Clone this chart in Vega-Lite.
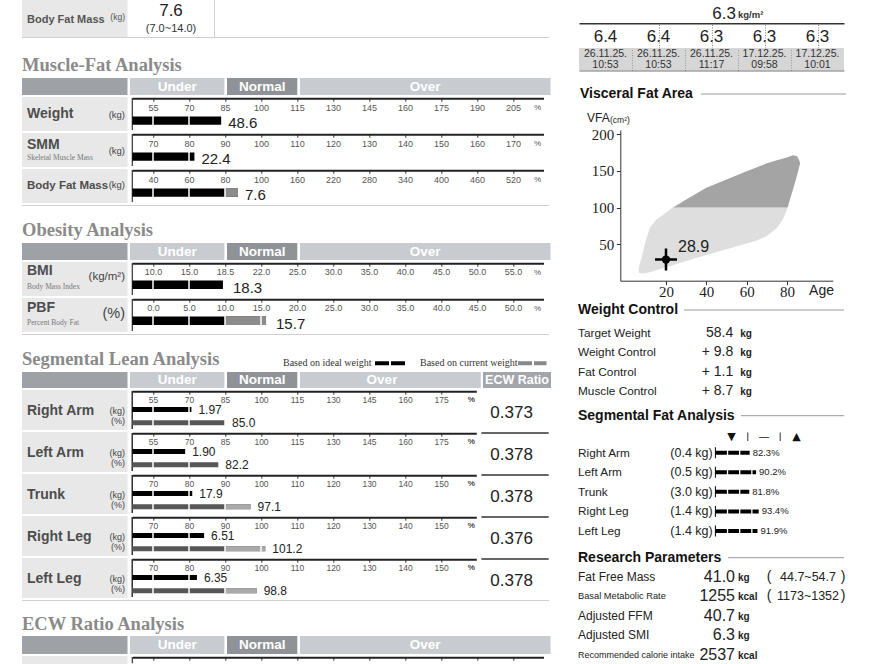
{
"$schema": "https://vega.github.io/schema/vega-lite/v6.json",
"padding": {"left": 22, "top": 0, "right": 0, "bottom": 0},
"background": "white",
"config": {"view": {"stroke": null}, "axis": {"grid": false}, "text": {"font": "Liberation Sans, Arial, sans-serif"}},
"datasets": {
 "muscleFat": [
  {"row": "Weight", "pct": 83.4, "val": "48.6"},
  {"row": "SMM", "pct": 81.5, "val": "22.4"},
  {"row": "Body Fat Mass", "pct": 87.2, "val": "7.6"}],
 "obesity": [
  {"row": "BMI", "value": 18.3},
  {"row": "PBF", "value": 15.7}],
 "lean": [
  {"part": "Right Arm", "m": "kg", "pct": 71.0, "val": "1.97"},
  {"part": "Right Arm", "m": "%", "pct": 85.0, "val": "85.0"},
  {"part": "Left Arm", "m": "kg", "pct": 68.4, "val": "1.90"},
  {"part": "Left Arm", "m": "%", "pct": 82.2, "val": "82.2"},
  {"part": "Trunk", "m": "kg", "pct": 80.9, "val": "17.9"},
  {"part": "Trunk", "m": "%", "pct": 97.1, "val": "97.1"},
  {"part": "Right Leg", "m": "kg", "pct": 84.2, "val": "6.51"},
  {"part": "Right Leg", "m": "%", "pct": 101.2, "val": "101.2"},
  {"part": "Left Leg", "m": "kg", "pct": 82.2, "val": "6.35"},
  {"part": "Left Leg", "m": "%", "pct": 98.8, "val": "98.8"}],
 "ecw": [
  {"part": "Right Arm", "ratio": "0.373"},
  {"part": "Left Arm", "ratio": "0.378"},
  {"part": "Trunk", "ratio": "0.378"},
  {"part": "Right Leg", "ratio": "0.376"},
  {"part": "Left Leg", "ratio": "0.378"}],
 "history": [
  {"id": "1", "smi": "6.4", "date": "26.11.25.", "time": "10:53"},
  {"id": "2", "smi": "6.4", "date": "26.11.25.", "time": "10:53"},
  {"id": "3", "smi": "6.3", "date": "26.11.25.", "time": "11:17"},
  {"id": "4", "smi": "6.3", "date": "17.12.25.", "time": "09:58"},
  {"id": "5", "smi": "6.3", "date": "17.12.25.", "time": "10:01"}],
 "vfaNormal": [
  {"age": 6.5, "lo": 11, "hi": 18}, {"age": 8, "lo": 10, "hi": 33}, {"age": 10, "lo": 10.5, "hi": 55},
  {"age": 12, "lo": 11.5, "hi": 72}, {"age": 15, "lo": 14, "hi": 83}, {"age": 20, "lo": 18.5, "hi": 93},
  {"age": 23.3, "lo": 21, "hi": 100}, {"age": 30, "lo": 27, "hi": 100}, {"age": 40, "lo": 35, "hi": 100},
  {"age": 50, "lo": 43, "hi": 100}, {"age": 60, "lo": 51, "hi": 100}, {"age": 65, "lo": 55, "hi": 100},
  {"age": 70, "lo": 61, "hi": 100}, {"age": 75, "lo": 72, "hi": 100}, {"age": 78, "lo": 84, "hi": 100},
  {"age": 80.3, "lo": 100, "hi": 100}],
 "vfaHigh": [
  {"age": 23.3, "lo": 100, "hi": 100}, {"age": 25, "lo": 100, "hi": 102.5}, {"age": 30, "lo": 100, "hi": 111},
  {"age": 40, "lo": 100, "hi": 127}, {"age": 50, "lo": 100, "hi": 138.5}, {"age": 60, "lo": 100, "hi": 149.5},
  {"age": 70, "lo": 100, "hi": 160.5}, {"age": 75, "lo": 100, "hi": 164.5}, {"age": 80.3, "lo": 100, "hi": 168.8},
  {"age": 83, "lo": 125, "hi": 171.5}, {"age": 85, "lo": 144, "hi": 170}, {"age": 86, "lo": 155, "hi": 165},
  {"age": 86.5, "lo": 160, "hi": 161}],
 "vfa": [{"age": 20, "vfa": 28.9}],
 "weightControl": [
  {"item": "Target Weight", "value": "58.4"},
  {"item": "Weight Control", "value": "+ 9.8"},
  {"item": "Fat Control", "value": "+ 1.1"},
  {"item": "Muscle Control", "value": "+ 8.7"}],
 "segFat": [
  {"part": "Right Arm", "kg": "(0.4 kg)", "pct": 82.3, "label": "82.3%"},
  {"part": "Left Arm", "kg": "(0.5 kg)", "pct": 90.2, "label": "90.2%"},
  {"part": "Trunk", "kg": "(3.0 kg)", "pct": 81.8, "label": "81.8%"},
  {"part": "Right Leg", "kg": "(1.4 kg)", "pct": 93.4, "label": "93.4%"},
  {"part": "Left Leg", "kg": "(1.4 kg)", "pct": 91.9, "label": "91.9%"}],
 "research": [
  {"item": "Fat Free Mass", "value": "41.0", "unit": "kg", "range": "44.7~54.7"},
  {"item": "Basal Metabolic Rate", "value": "1255", "unit": "kcal", "range": "1173~1352"},
  {"item": "Adjusted FFM", "value": "40.7", "unit": "kg", "range": ""},
  {"item": "Adjusted SMI", "value": "6.3", "unit": "kg", "range": ""},
  {"item": "Recommended calorie intake", "value": "2537", "unit": "kcal", "range": ""}]
},
"hconcat": [
{
 "vconcat": [
  {"hconcat": [
    {"width": 105.5, "height": 37, "view": {"fill": "#e8e8e8", "stroke": null}, "data": {"values": [{"name": "Body Fat Mass", "unit": "(kg)"}]}, "layer": [
      {"mark": {"type": "text", "fontWeight": "bold", "fontSize": 11, "color": "#555", "align": "left", "baseline": "middle", "x": 5, "y": 20}, "encoding": {"text": {"field": "name"}}},
      {"mark": {"type": "text", "fontSize": 8.5, "color": "#555", "align": "right", "baseline": "middle", "x": 103, "y": 16.5}, "encoding": {"text": {"field": "unit"}}}]},
    {"width": 85.5, "height": 37, "data": {"values": [{"value": "7.6", "range": "(7.0~14.0)"}]}, "layer": [
      {"mark": {"type": "text", "fontSize": 17, "color": "#222", "align": "center", "baseline": "middle", "x": 43, "y": 11}, "encoding": {"text": {"field": "value"}}},
      {"mark": {"type": "text", "fontSize": 11, "color": "#333", "align": "center", "baseline": "middle", "x": 43, "y": 29}, "encoding": {"text": {"field": "range"}}}]},
    {"width": 1, "height": 37, "view": {"fill": "#d0d0d0", "stroke": null}, "data": {"values": []}, "mark": "point"},
    {"width": 335, "height": 37, "data": {"values": []}, "mark": "point"}
   ], "spacing": 0, "bounds": "flush"},
  {"width": 527, "height": 1, "view": {"fill": "#d0d0d0", "stroke": null}, "data": {"values": []}, "mark": "point"},
  {"width": 527, "height": 40, "data": {"values": [{"title": "Muscle-Fat Analysis"}]}, "mark": {"type": "text", "font": "Liberation Serif, Times New Roman, serif", "fontWeight": "bold", "fontSize": 18.5, "color": "#8a8a8a", "align": "left", "baseline": "middle", "x": 0, "y": 27}, "encoding": {"text": {"field": "title"}}},
  {"vconcat": [
    {"hconcat": [
      {"width": 105.5, "height": 17, "view": {"fill": "#9ea2a7", "stroke": null}, "data": {"values": []}, "mark": "point"},
      {"width": 94.4, "height": 17, "view": {"fill": "#c8ccd1", "stroke": null}, "data": {"values": [{"zone": "Under"}]}, "mark": {"type": "text", "fontWeight": "bold", "fontSize": 13.5, "color": "white", "align": "center", "baseline": "middle", "x": 47.2, "y": 8.8}, "encoding": {"text": {"field": "zone"}}},
      {"width": 70.3, "height": 17, "view": {"fill": "#8f9398", "stroke": null}, "data": {"values": [{"zone": "Normal"}]}, "mark": {"type": "text", "fontWeight": "bold", "fontSize": 13.5, "color": "white", "align": "center", "baseline": "middle", "x": 35.2, "y": 8.8}, "encoding": {"text": {"field": "zone"}}},
      {"width": 250.5, "height": 17, "view": {"fill": "#c8ccd1", "stroke": null}, "data": {"values": [{"zone": "Over"}]}, "mark": {"type": "text", "fontWeight": "bold", "fontSize": 13.5, "color": "white", "align": "center", "baseline": "middle", "x": 125.2, "y": 8.8}, "encoding": {"text": {"field": "zone"}}}
     ], "spacing": 2, "bounds": "flush"},
    {"hconcat": [
      {"width": 105.5, "height": 34, "view": {"fill": "#e8e8e8", "stroke": null}, "data": {"values": [{"name": "Weight", "unit": "(kg)"}]}, "layer": [
        {"mark": {"type": "text", "fontWeight": "bold", "fontSize": 14, "color": "#4d4d4d", "align": "left", "baseline": "middle", "x": 5, "y": 17}, "encoding": {"text": {"field": "name"}}},
        {"mark": {"type": "text", "fontSize": 9.5, "color": "#444", "align": "right", "baseline": "middle", "x": 103, "y": 17.5}, "encoding": {"text": {"field": "unit"}}}]},
      {"width": 411.2, "height": 34, "data": {"name": "muscleFat"}, "transform": [{"filter": "datum.row === 'Weight'"}],
       "encoding": {"x": {"field": "pct", "type": "quantitative", "scale": {"domain": [46.375, 217.7], "zero": false, "nice": false},
         "axis": {"orient": "bottom", "offset": -32.8, "values": [55, 70, 85, 100, 115, 130, 145, 160, 175, 190, 205], "format": "d", "domainColor": "#222", "domainWidth": 2, "tickColor": "#333", "tickSize": 3, "labelFontSize": 9, "labelColor": "#555", "labelPadding": 2, "labelFlush": false, "labelOverlap": false, "labelBound": false, "title": null, "grid": false, "zindex": 1}}},
       "layer": [
        {"mark": {"type": "rule", "color": "#333", "strokeWidth": 1.2}, "encoding": {"x": {"datum": 46.375, "type": "quantitative"}, "y": {"value": 1}, "y2": {"value": 33}}},
        {"mark": {"type": "bar", "color": "#000"}, "encoding": {"x2": {"datum": 46.375}, "y": {"field": "row", "type": "nominal", "scale": {"range": [19.5, 27.8], "paddingInner": 0, "paddingOuter": 0}, "axis": null}}},
        {"data": {"values": [{"t": 55}, {"t": 70}, {"t": 85}, {"t": 100}, {"t": 115}]}, "mark": {"type": "rule", "color": "#fff", "strokeWidth": 1.5}, "encoding": {"x": {"field": "t", "type": "quantitative"}, "y": {"value": 19}, "y2": {"value": 28.3}}},
        {"mark": {"type": "text", "fontSize": 15, "color": "#222", "align": "left", "baseline": "middle", "dx": 7, "dy": 2.3}, "encoding": {"y": {"field": "row", "type": "nominal", "scale": {"range": [19.5, 27.8], "paddingInner": 0, "paddingOuter": 0}, "axis": null}, "text": {"field": "val"}}},
        {"mark": {"type": "text", "text": "%", "fontSize": 8, "color": "#555", "align": "center", "baseline": "middle", "y": 10.8}, "encoding": {"x": {"datum": 215.2, "type": "quantitative"}}}
       ]}
     ], "spacing": 4.3, "bounds": "flush"},
    {"hconcat": [
      {"width": 105.5, "height": 34, "view": {"fill": "#e8e8e8", "stroke": null}, "data": {"values": [{"name": "SMM", "unit": "(kg)", "sub": "Skeletal Muscle Mass"}]}, "layer": [
        {"mark": {"type": "text", "fontWeight": "bold", "fontSize": 14, "color": "#4d4d4d", "align": "left", "baseline": "middle", "x": 5, "y": 12}, "encoding": {"text": {"field": "name"}}},
        {"mark": {"type": "text", "font": "Liberation Serif, Times New Roman, serif", "fontSize": 7.5, "color": "#777", "align": "left", "baseline": "middle", "x": 5, "y": 24.5}, "encoding": {"text": {"field": "sub"}}},
        {"mark": {"type": "text", "fontSize": 9.5, "color": "#444", "align": "right", "baseline": "middle", "x": 103, "y": 17.5}, "encoding": {"text": {"field": "unit"}}}]},
      {"width": 411.2, "height": 34, "data": {"name": "muscleFat"}, "transform": [{"filter": "datum.row === 'SMM'"}],
       "encoding": {"x": {"field": "pct", "type": "quantitative", "scale": {"domain": [64.25, 178.47], "zero": false, "nice": false},
         "axis": {"orient": "bottom", "offset": -32.8, "values": [70, 80, 90, 100, 110, 120, 130, 140, 150, 160, 170], "format": "d", "domainColor": "#222", "domainWidth": 2, "tickColor": "#333", "tickSize": 3, "labelFontSize": 9, "labelColor": "#555", "labelPadding": 2, "labelFlush": false, "labelOverlap": false, "labelBound": false, "title": null, "grid": false, "zindex": 1}}},
       "layer": [
        {"mark": {"type": "rule", "color": "#333", "strokeWidth": 1.2}, "encoding": {"x": {"datum": 64.25, "type": "quantitative"}, "y": {"value": 1}, "y2": {"value": 33}}},
        {"mark": {"type": "bar", "color": "#000"}, "encoding": {"x2": {"datum": 64.25}, "y": {"field": "row", "type": "nominal", "scale": {"range": [19.5, 27.8], "paddingInner": 0, "paddingOuter": 0}, "axis": null}}},
        {"data": {"values": [{"t": 70}, {"t": 80}, {"t": 90}, {"t": 100}, {"t": 110}]}, "mark": {"type": "rule", "color": "#fff", "strokeWidth": 1.5}, "encoding": {"x": {"field": "t", "type": "quantitative"}, "y": {"value": 19}, "y2": {"value": 28.3}}},
        {"mark": {"type": "text", "fontSize": 15, "color": "#222", "align": "left", "baseline": "middle", "dx": 7, "dy": 2.3}, "encoding": {"y": {"field": "row", "type": "nominal", "scale": {"range": [19.5, 27.8], "paddingInner": 0, "paddingOuter": 0}, "axis": null}, "text": {"field": "val"}}},
        {"mark": {"type": "text", "text": "%", "fontSize": 8, "color": "#555", "align": "center", "baseline": "middle", "y": 10.8}, "encoding": {"x": {"datum": 176.8, "type": "quantitative"}}}
       ]}
     ], "spacing": 4.3, "bounds": "flush"},
    {"hconcat": [
      {"width": 105.5, "height": 34, "view": {"fill": "#e8e8e8", "stroke": null}, "data": {"values": [{"name": "Body Fat Mass", "unit": "(kg)"}]}, "layer": [
        {"mark": {"type": "text", "fontWeight": "bold", "fontSize": 11.5, "color": "#4d4d4d", "align": "left", "baseline": "middle", "x": 5, "y": 16.5}, "encoding": {"text": {"field": "name"}}},
        {"mark": {"type": "text", "fontSize": 9.5, "color": "#444", "align": "right", "baseline": "middle", "x": 103, "y": 16}, "encoding": {"text": {"field": "unit"}}}]},
      {"width": 411.2, "height": 34, "data": {"name": "muscleFat"}, "transform": [{"filter": "datum.row === 'Body Fat Mass'"}],
       "encoding": {"x": {"field": "pct", "type": "quantitative", "scale": {"domain": [28.5, 100, 570.8], "range": [0, 128.7, 411.2], "zero": false, "nice": false},
         "axis": {"orient": "bottom", "offset": -32.8, "values": [40, 60, 80, 100, 160, 220, 280, 340, 400, 460, 520], "format": "d", "domainColor": "#222", "domainWidth": 2, "tickColor": "#333", "tickSize": 3, "labelFontSize": 9, "labelColor": "#555", "labelPadding": 2, "labelFlush": false, "labelOverlap": false, "labelBound": false, "title": null, "grid": false, "zindex": 1}}},
       "layer": [
        {"mark": {"type": "rule", "color": "#333", "strokeWidth": 1.2}, "encoding": {"x": {"datum": 28.5, "type": "quantitative"}, "y": {"value": 1}, "y2": {"value": 33}}},
        {"mark": {"type": "bar", "color": "#000"}, "encoding": {"x2": {"datum": 28.5}, "y": {"field": "row", "type": "nominal", "scale": {"range": [19.5, 27.8], "paddingInner": 0, "paddingOuter": 0}, "axis": null}}},
        {"mark": {"type": "bar", "color": "#8c8c8c"}, "encoding": {"x": {"datum": 80, "type": "quantitative"}, "x2": {"field": "pct"}, "y": {"field": "row", "type": "nominal", "scale": {"range": [19.5, 27.8], "paddingInner": 0, "paddingOuter": 0}, "axis": null}}},
        {"data": {"values": [{"t": 40}, {"t": 60}, {"t": 80}, {"t": 100}, {"t": 160}]}, "mark": {"type": "rule", "color": "#fff", "strokeWidth": 1.5}, "encoding": {"x": {"field": "t", "type": "quantitative"}, "y": {"value": 19}, "y2": {"value": 28.3}}},
        {"mark": {"type": "text", "fontSize": 15, "color": "#222", "align": "left", "baseline": "middle", "dx": 7, "dy": 2.3}, "encoding": {"y": {"field": "row", "type": "nominal", "scale": {"range": [19.5, 27.8], "paddingInner": 0, "paddingOuter": 0}, "axis": null}, "text": {"field": "val"}}},
        {"mark": {"type": "text", "text": "%", "fontSize": 8, "color": "#555", "align": "center", "baseline": "middle", "y": 10.8}, "encoding": {"x": {"datum": 560.8, "type": "quantitative"}}}
       ]}
     ], "spacing": 4.3, "bounds": "flush"},
    {"width": 527, "height": 1, "view": {"fill": "#d0d0d0", "stroke": null}, "data": {"values": []}, "mark": "point"}
   ], "spacing": 2, "bounds": "full"},
  {"width": 527, "height": 37, "data": {"values": [{"title": "Obesity Analysis"}]}, "mark": {"type": "text", "font": "Liberation Serif, Times New Roman, serif", "fontWeight": "bold", "fontSize": 18.5, "color": "#8a8a8a", "align": "left", "baseline": "middle", "x": 0, "y": 24}, "encoding": {"text": {"field": "title"}}},
  {"vconcat": [
    {"hconcat": [
      {"width": 105.5, "height": 17, "view": {"fill": "#9ea2a7", "stroke": null}, "data": {"values": []}, "mark": "point"},
      {"width": 94.4, "height": 17, "view": {"fill": "#c8ccd1", "stroke": null}, "data": {"values": [{"zone": "Under"}]}, "mark": {"type": "text", "fontWeight": "bold", "fontSize": 13.5, "color": "white", "align": "center", "baseline": "middle", "x": 47.2, "y": 8.8}, "encoding": {"text": {"field": "zone"}}},
      {"width": 70.3, "height": 17, "view": {"fill": "#8f9398", "stroke": null}, "data": {"values": [{"zone": "Normal"}]}, "mark": {"type": "text", "fontWeight": "bold", "fontSize": 13.5, "color": "white", "align": "center", "baseline": "middle", "x": 35.2, "y": 8.8}, "encoding": {"text": {"field": "zone"}}},
      {"width": 250.5, "height": 17, "view": {"fill": "#c8ccd1", "stroke": null}, "data": {"values": [{"zone": "Over"}]}, "mark": {"type": "text", "fontWeight": "bold", "fontSize": 13.5, "color": "white", "align": "center", "baseline": "middle", "x": 125.2, "y": 8.8}, "encoding": {"text": {"field": "zone"}}}
     ], "spacing": 2, "bounds": "flush"},
    {"hconcat": [
      {"width": 105.5, "height": 34, "view": {"fill": "#e8e8e8", "stroke": null}, "data": {"values": [{"name": "BMI", "unit": "(kg/m²)", "sub": "Body Mass Index"}]}, "layer": [
        {"mark": {"type": "text", "fontWeight": "bold", "fontSize": 14, "color": "#4d4d4d", "align": "left", "baseline": "middle", "x": 5, "y": 9}, "encoding": {"text": {"field": "name"}}},
        {"mark": {"type": "text", "font": "Liberation Serif, Times New Roman, serif", "fontSize": 7.5, "color": "#777", "align": "left", "baseline": "middle", "x": 5, "y": 24.5}, "encoding": {"text": {"field": "sub"}}},
        {"mark": {"type": "text", "fontSize": 11.5, "color": "#444", "align": "right", "baseline": "middle", "x": 103, "y": 15}, "encoding": {"text": {"field": "unit"}}}]},
      {"width": 411.2, "height": 34, "data": {"name": "obesity"}, "transform": [{"filter": "datum.row === 'BMI'"}],
       "encoding": {"x": {"field": "value", "type": "quantitative", "scale": {"domain": [7.125, 15, 18.5, 22, 25, 59.24], "range": [0, 56.7, 92.7, 128.7, 164.7, 411.2], "zero": false, "nice": false},
         "axis": {"orient": "bottom", "offset": -32.8, "values": [10, 15, 18.5, 22, 25, 30, 35, 40, 45, 50, 55], "format": ".1f", "domainColor": "#222", "domainWidth": 2, "tickColor": "#333", "tickSize": 3, "labelFontSize": 9, "labelColor": "#555", "labelPadding": 1.5, "labelFlush": false, "labelOverlap": false, "labelBound": false, "title": null, "grid": false, "zindex": 1}}},
       "layer": [
        {"mark": {"type": "rule", "color": "#333", "strokeWidth": 1.2}, "encoding": {"x": {"datum": 7.125, "type": "quantitative"}, "y": {"value": 1}, "y2": {"value": 33}}},
        {"mark": {"type": "bar", "color": "#000"}, "encoding": {"x2": {"datum": 7.125}, "y": {"field": "row", "type": "nominal", "scale": {"range": [18.6, 26.9], "paddingInner": 0, "paddingOuter": 0}, "axis": null}}},
        {"data": {"values": [{"t": 10}, {"t": 15}, {"t": 18.5}, {"t": 22}]}, "mark": {"type": "rule", "color": "#fff", "strokeWidth": 1.5}, "encoding": {"x": {"field": "t", "type": "quantitative"}, "y": {"value": 18.1}, "y2": {"value": 27.4}}},
        {"mark": {"type": "text", "fontSize": 15, "color": "#222", "align": "left", "baseline": "middle", "dx": 10, "dy": 3}, "encoding": {"y": {"field": "row", "type": "nominal", "scale": {"range": [18.6, 26.9], "paddingInner": 0, "paddingOuter": 0}, "axis": null}, "text": {"field": "value", "format": ".1f"}}},
        {"mark": {"type": "text", "text": "%", "fontSize": 8, "color": "#555", "align": "center", "baseline": "middle", "y": 10.5}, "encoding": {"x": {"datum": 58.4, "type": "quantitative"}}}
       ]}
     ], "spacing": 4.3, "bounds": "flush"},
    {"hconcat": [
      {"width": 105.5, "height": 34, "view": {"fill": "#e8e8e8", "stroke": null}, "data": {"values": [{"name": "PBF", "unit": "(%)", "sub": "Percent Body Fat"}]}, "layer": [
        {"mark": {"type": "text", "fontWeight": "bold", "fontSize": 14, "color": "#4d4d4d", "align": "left", "baseline": "middle", "x": 5, "y": 9.5}, "encoding": {"text": {"field": "name"}}},
        {"mark": {"type": "text", "font": "Liberation Serif, Times New Roman, serif", "fontSize": 7.5, "color": "#777", "align": "left", "baseline": "middle", "x": 5, "y": 25}, "encoding": {"text": {"field": "sub"}}},
        {"mark": {"type": "text", "fontSize": 14.5, "color": "#444", "align": "right", "baseline": "middle", "x": 103, "y": 15.5}, "encoding": {"text": {"field": "unit"}}}]},
      {"width": 411.2, "height": 34, "data": {"name": "obesity"}, "transform": [{"filter": "datum.row === 'PBF'"}],
       "encoding": {"x": {"field": "value", "type": "quantitative", "scale": {"domain": [-2.875, 54.24], "zero": false, "nice": false},
         "axis": {"orient": "bottom", "offset": -32.8, "values": [0, 5, 10, 15, 20, 25, 30, 35, 40, 45, 50], "format": ".1f", "domainColor": "#222", "domainWidth": 2, "tickColor": "#333", "tickSize": 3, "labelFontSize": 9, "labelColor": "#555", "labelPadding": 1.5, "labelFlush": false, "labelOverlap": false, "labelBound": false, "title": null, "grid": false, "zindex": 1}}},
       "layer": [
        {"mark": {"type": "rule", "color": "#333", "strokeWidth": 1.2}, "encoding": {"x": {"datum": -2.875, "type": "quantitative"}, "y": {"value": 1}, "y2": {"value": 33}}},
        {"mark": {"type": "bar", "color": "#000"}, "encoding": {"x2": {"datum": -2.875}, "y": {"field": "row", "type": "nominal", "scale": {"range": [18.6, 26.9], "paddingInner": 0, "paddingOuter": 0}, "axis": null}}},
        {"mark": {"type": "bar", "color": "#8c8c8c"}, "encoding": {"x": {"datum": 10, "type": "quantitative"}, "x2": {"field": "value"}, "y": {"field": "row", "type": "nominal", "scale": {"range": [18.6, 26.9], "paddingInner": 0, "paddingOuter": 0}, "axis": null}}},
        {"data": {"values": [{"t": 0}, {"t": 5}, {"t": 10}, {"t": 15}, {"t": 20}]}, "mark": {"type": "rule", "color": "#fff", "strokeWidth": 1.5}, "encoding": {"x": {"field": "t", "type": "quantitative"}, "y": {"value": 18.1}, "y2": {"value": 27.4}}},
        {"mark": {"type": "text", "fontSize": 15, "color": "#222", "align": "left", "baseline": "middle", "dx": 10, "dy": 3}, "encoding": {"y": {"field": "row", "type": "nominal", "scale": {"range": [18.6, 26.9], "paddingInner": 0, "paddingOuter": 0}, "axis": null}, "text": {"field": "value", "format": ".1f"}}},
        {"mark": {"type": "text", "text": "%", "fontSize": 8, "color": "#555", "align": "center", "baseline": "middle", "y": 10.5}, "encoding": {"x": {"datum": 53.4, "type": "quantitative"}}}
       ]}
     ], "spacing": 4.3, "bounds": "flush"},
    {"width": 527, "height": 1, "view": {"fill": "#d0d0d0", "stroke": null}, "data": {"values": []}, "mark": "point"}
   ], "spacing": 2, "bounds": "full"},
  {"width": 527, "height": 37, "layer": [
    {"data": {"values": [{"title": "Segmental Lean Analysis"}]}, "mark": {"type": "text", "font": "Liberation Serif, Times New Roman, serif", "fontWeight": "bold", "fontSize": 18.5, "color": "#8a8a8a", "align": "left", "baseline": "middle", "x": 0, "y": 24}, "encoding": {"text": {"field": "title"}}},
    {"data": {"values": [{"label": "Based on ideal weight"}]}, "mark": {"type": "text", "font": "Liberation Serif, Times New Roman, serif", "fontSize": 10, "color": "#333", "align": "left", "baseline": "middle", "x": 261, "y": 28.3}, "encoding": {"text": {"field": "label"}}},
    {"data": {"values": [{}]}, "mark": {"type": "rule", "color": "#000", "strokeWidth": 4, "strokeDash": [14, 2]}, "encoding": {"x": {"value": 353}, "x2": {"value": 383}, "y": {"value": 28.3}}},
    {"data": {"values": [{"label": "Based on current weight"}]}, "mark": {"type": "text", "font": "Liberation Serif, Times New Roman, serif", "fontSize": 10, "color": "#333", "align": "left", "baseline": "middle", "x": 398, "y": 28.3}, "encoding": {"text": {"field": "label"}}},
    {"data": {"values": [{}]}, "mark": {"type": "rule", "color": "#888", "strokeWidth": 4, "strokeDash": [14, 2]}, "encoding": {"x": {"value": 496}, "x2": {"value": 524.5}, "y": {"value": 28.3}}}
   ]},
  {"vconcat": [
    {"hconcat": [
      {"width": 105.5, "height": 16, "view": {"fill": "#9ea2a7", "stroke": null}, "data": {"values": []}, "mark": "point"},
      {"width": 94.4, "height": 16, "view": {"fill": "#c8ccd1", "stroke": null}, "data": {"values": [{"zone": "Under"}]}, "mark": {"type": "text", "fontWeight": "bold", "fontSize": 13.5, "color": "white", "align": "center", "baseline": "middle", "x": 47.2, "y": 8.3}, "encoding": {"text": {"field": "zone"}}},
      {"width": 70.3, "height": 16, "view": {"fill": "#8f9398", "stroke": null}, "data": {"values": [{"zone": "Normal"}]}, "mark": {"type": "text", "fontWeight": "bold", "fontSize": 13.5, "color": "white", "align": "center", "baseline": "middle", "x": 35.2, "y": 8.3}, "encoding": {"text": {"field": "zone"}}},
      {"width": 180.8, "height": 16, "view": {"fill": "#c8ccd1", "stroke": null}, "data": {"values": [{"zone": "Over"}]}, "mark": {"type": "text", "fontWeight": "bold", "fontSize": 13.5, "color": "white", "align": "center", "baseline": "middle", "x": 82, "y": 8.3}, "encoding": {"text": {"field": "zone"}}},
      {"width": 68, "height": 16, "view": {"fill": "#a2a6aa", "stroke": null}, "data": {"values": [{"zone": "ECW Ratio"}]}, "mark": {"type": "text", "fontWeight": "bold", "fontSize": 12.5, "color": "white", "align": "center", "baseline": "middle", "x": 34, "y": 8.3}, "encoding": {"text": {"field": "zone"}}}
     ], "spacing": 2, "bounds": "flush"},
    {"hconcat": [
      {"width": 105.5, "height": 40, "view": {"fill": "#e8e8e8", "stroke": null}, "data": {"values": [{"name": "Right Arm"}]}, "layer": [
        {"mark": {"type": "text", "fontWeight": "bold", "fontSize": 14, "color": "#4d4d4d", "align": "left", "baseline": "middle", "x": 5, "y": 20.5}, "encoding": {"text": {"field": "name"}}},
        {"mark": {"type": "text", "text": "(kg)", "fontSize": 9, "color": "#444", "align": "right", "baseline": "middle", "x": 103, "y": 21}},
        {"mark": {"type": "text", "text": "(%)", "fontSize": 9, "color": "#444", "align": "right", "baseline": "middle", "x": 103, "y": 31}}]},
      {"width": 344, "height": 40, "data": {"name": "lean"}, "transform": [{"filter": "datum.part === 'Right Arm'"}],
       "encoding": {"x": {"field": "pct", "type": "quantitative", "scale": {"domain": [46.375, 189.7], "zero": false, "nice": false},
         "axis": {"orient": "bottom", "offset": -38.8, "values": [55, 70, 85, 100, 115, 130, 145, 160, 175], "format": "d", "domainColor": "#222", "domainWidth": 2, "tickColor": "#333", "tickSize": 3, "labelFontSize": 8.5, "labelColor": "#555", "labelPadding": 1, "labelFlush": false, "labelOverlap": false, "labelBound": false, "title": null, "grid": false, "zindex": 1}}},
       "layer": [
        {"mark": {"type": "rule", "color": "#333", "strokeWidth": 1.2}, "encoding": {"x": {"datum": 46.375, "type": "quantitative"}, "y": {"value": 1}, "y2": {"value": 39}}},
        {"mark": {"type": "bar"}, "encoding": {"x2": {"datum": 46.375}, "y": {"field": "m", "type": "nominal", "scale": {"domain": ["kg", "%"], "range": [17, 35.3], "paddingInner": 0.624, "paddingOuter": 0}, "axis": null}, "color": {"field": "m", "type": "nominal", "scale": {"domain": ["kg", "%"], "range": ["#000000", "#575757"]}, "legend": null}}},
        {"data": {"values": [{"t": 55}, {"t": 70}, {"t": 85}, {"t": 100}]}, "mark": {"type": "rule", "color": "#fff", "strokeWidth": 1.5}, "encoding": {"x": {"field": "t", "type": "quantitative"}, "y": {"value": 16.5}, "y2": {"value": 35.8}}},
        {"mark": {"type": "text", "fontSize": 12, "color": "#222", "align": "left", "baseline": "middle", "dx": 7, "dy": 0.7}, "encoding": {"y": {"field": "m", "type": "nominal", "scale": {"domain": ["kg", "%"], "range": [17, 35.3], "paddingInner": 0.624, "paddingOuter": 0}, "axis": null}, "text": {"field": "val"}}},
        {"mark": {"type": "text", "text": "%", "fontSize": 8, "color": "#555", "align": "center", "baseline": "middle", "y": 9.5}, "encoding": {"x": {"datum": 187.6, "type": "quantitative"}}}
       ]},
      {"width": 68.9, "height": 40, "data": {"name": "ecw"}, "transform": [{"filter": "datum.part === 'Right Arm'"}], "mark": {"type": "text", "fontSize": 17, "color": "#222", "align": "center", "baseline": "middle", "x": 31, "y": 23}, "encoding": {"text": {"field": "ratio"}}}
     ], "spacing": 4.3, "bounds": "flush"},
    {"hconcat": [
      {"width": 105.5, "height": 40, "view": {"fill": "#e8e8e8", "stroke": null}, "data": {"values": [{"name": "Left Arm"}]}, "layer": [
        {"mark": {"type": "text", "fontWeight": "bold", "fontSize": 14, "color": "#4d4d4d", "align": "left", "baseline": "middle", "x": 5, "y": 20.5}, "encoding": {"text": {"field": "name"}}},
        {"mark": {"type": "text", "text": "(kg)", "fontSize": 9, "color": "#444", "align": "right", "baseline": "middle", "x": 103, "y": 21}},
        {"mark": {"type": "text", "text": "(%)", "fontSize": 9, "color": "#444", "align": "right", "baseline": "middle", "x": 103, "y": 31}}]},
      {"width": 344, "height": 40, "data": {"name": "lean"}, "transform": [{"filter": "datum.part === 'Left Arm'"}],
       "encoding": {"x": {"field": "pct", "type": "quantitative", "scale": {"domain": [46.375, 189.7], "zero": false, "nice": false},
         "axis": {"orient": "bottom", "offset": -38.8, "values": [55, 70, 85, 100, 115, 130, 145, 160, 175], "format": "d", "domainColor": "#222", "domainWidth": 2, "tickColor": "#333", "tickSize": 3, "labelFontSize": 8.5, "labelColor": "#555", "labelPadding": 1, "labelFlush": false, "labelOverlap": false, "labelBound": false, "title": null, "grid": false, "zindex": 1}}},
       "layer": [
        {"mark": {"type": "rule", "color": "#333", "strokeWidth": 1.2}, "encoding": {"x": {"datum": 46.375, "type": "quantitative"}, "y": {"value": 1}, "y2": {"value": 39}}},
        {"mark": {"type": "bar"}, "encoding": {"x2": {"datum": 46.375}, "y": {"field": "m", "type": "nominal", "scale": {"domain": ["kg", "%"], "range": [17, 35.3], "paddingInner": 0.624, "paddingOuter": 0}, "axis": null}, "color": {"field": "m", "type": "nominal", "scale": {"domain": ["kg", "%"], "range": ["#000000", "#575757"]}, "legend": null}}},
        {"data": {"values": [{"t": 55}, {"t": 70}, {"t": 85}, {"t": 100}]}, "mark": {"type": "rule", "color": "#fff", "strokeWidth": 1.5}, "encoding": {"x": {"field": "t", "type": "quantitative"}, "y": {"value": 16.5}, "y2": {"value": 35.8}}},
        {"mark": {"type": "text", "fontSize": 12, "color": "#222", "align": "left", "baseline": "middle", "dx": 7, "dy": 0.7}, "encoding": {"y": {"field": "m", "type": "nominal", "scale": {"domain": ["kg", "%"], "range": [17, 35.3], "paddingInner": 0.624, "paddingOuter": 0}, "axis": null}, "text": {"field": "val"}}},
        {"mark": {"type": "text", "text": "%", "fontSize": 8, "color": "#555", "align": "center", "baseline": "middle", "y": 9.5}, "encoding": {"x": {"datum": 187.6, "type": "quantitative"}}}
       ]},
      {"width": 68.9, "height": 40, "data": {"name": "ecw"}, "transform": [{"filter": "datum.part === 'Left Arm'"}], "layer": [
        {"mark": {"type": "rule", "color": "#333", "strokeWidth": 1.5}, "encoding": {"x": {"value": 0.75}, "x2": {"value": 68.1}, "y": {"value": 1}}},
        {"mark": {"type": "text", "fontSize": 17, "color": "#222", "align": "center", "baseline": "middle", "x": 31, "y": 23}, "encoding": {"text": {"field": "ratio"}}}]}
     ], "spacing": 4.3, "bounds": "flush"},
    {"hconcat": [
      {"width": 105.5, "height": 40, "view": {"fill": "#e8e8e8", "stroke": null}, "data": {"values": [{"name": "Trunk"}]}, "layer": [
        {"mark": {"type": "text", "fontWeight": "bold", "fontSize": 14, "color": "#4d4d4d", "align": "left", "baseline": "middle", "x": 5, "y": 20.5}, "encoding": {"text": {"field": "name"}}},
        {"mark": {"type": "text", "text": "(kg)", "fontSize": 9, "color": "#444", "align": "right", "baseline": "middle", "x": 103, "y": 21}},
        {"mark": {"type": "text", "text": "(%)", "fontSize": 9, "color": "#444", "align": "right", "baseline": "middle", "x": 103, "y": 31}}]},
      {"width": 344, "height": 40, "data": {"name": "lean"}, "transform": [{"filter": "datum.part === 'Trunk'"}],
       "encoding": {"x": {"field": "pct", "type": "quantitative", "scale": {"domain": [64.25, 159.8], "zero": false, "nice": false},
         "axis": {"orient": "bottom", "offset": -38.8, "values": [70, 80, 90, 100, 110, 120, 130, 140, 150], "format": "d", "domainColor": "#222", "domainWidth": 2, "tickColor": "#333", "tickSize": 3, "labelFontSize": 8.5, "labelColor": "#555", "labelPadding": 1, "labelFlush": false, "labelOverlap": false, "labelBound": false, "title": null, "grid": false, "zindex": 1}}},
       "layer": [
        {"mark": {"type": "rule", "color": "#333", "strokeWidth": 1.2}, "encoding": {"x": {"datum": 64.25, "type": "quantitative"}, "y": {"value": 1}, "y2": {"value": 39}}},
        {"mark": {"type": "bar"}, "encoding": {"x2": {"datum": 64.25}, "y": {"field": "m", "type": "nominal", "scale": {"domain": ["kg", "%"], "range": [17, 35.3], "paddingInner": 0.624, "paddingOuter": 0}, "axis": null}, "color": {"field": "m", "type": "nominal", "scale": {"domain": ["kg", "%"], "range": ["#000000", "#575757"]}, "legend": null}}},
        {"transform": [{"filter": "datum.m === '%'"}], "mark": {"type": "bar", "color": "#a9a9a9"}, "encoding": {"x": {"datum": 90, "type": "quantitative"}, "x2": {"field": "pct"}, "y": {"field": "m", "type": "nominal", "scale": {"domain": ["kg", "%"], "range": [17, 35.3], "paddingInner": 0.624, "paddingOuter": 0}, "axis": null}}},
        {"data": {"values": [{"t": 70}, {"t": 80}, {"t": 90}, {"t": 100}, {"t": 110}]}, "mark": {"type": "rule", "color": "#fff", "strokeWidth": 1.5}, "encoding": {"x": {"field": "t", "type": "quantitative"}, "y": {"value": 16.5}, "y2": {"value": 35.8}}},
        {"mark": {"type": "text", "fontSize": 12, "color": "#222", "align": "left", "baseline": "middle", "dx": 7, "dy": 0.7}, "encoding": {"y": {"field": "m", "type": "nominal", "scale": {"domain": ["kg", "%"], "range": [17, 35.3], "paddingInner": 0.624, "paddingOuter": 0}, "axis": null}, "text": {"field": "val"}}},
        {"mark": {"type": "text", "text": "%", "fontSize": 8, "color": "#555", "align": "center", "baseline": "middle", "y": 9.5}, "encoding": {"x": {"datum": 158.4, "type": "quantitative"}}}
       ]},
      {"width": 68.9, "height": 40, "data": {"name": "ecw"}, "transform": [{"filter": "datum.part === 'Trunk'"}], "layer": [
        {"mark": {"type": "rule", "color": "#333", "strokeWidth": 1.5}, "encoding": {"x": {"value": 0.75}, "x2": {"value": 68.1}, "y": {"value": 1}}},
        {"mark": {"type": "text", "fontSize": 17, "color": "#222", "align": "center", "baseline": "middle", "x": 31, "y": 23}, "encoding": {"text": {"field": "ratio"}}}]}
     ], "spacing": 4.3, "bounds": "flush"},
    {"hconcat": [
      {"width": 105.5, "height": 40, "view": {"fill": "#e8e8e8", "stroke": null}, "data": {"values": [{"name": "Right Leg"}]}, "layer": [
        {"mark": {"type": "text", "fontWeight": "bold", "fontSize": 14, "color": "#4d4d4d", "align": "left", "baseline": "middle", "x": 5, "y": 20.5}, "encoding": {"text": {"field": "name"}}},
        {"mark": {"type": "text", "text": "(kg)", "fontSize": 9, "color": "#444", "align": "right", "baseline": "middle", "x": 103, "y": 21}},
        {"mark": {"type": "text", "text": "(%)", "fontSize": 9, "color": "#444", "align": "right", "baseline": "middle", "x": 103, "y": 31}}]},
      {"width": 344, "height": 40, "data": {"name": "lean"}, "transform": [{"filter": "datum.part === 'Right Leg'"}],
       "encoding": {"x": {"field": "pct", "type": "quantitative", "scale": {"domain": [64.25, 159.8], "zero": false, "nice": false},
         "axis": {"orient": "bottom", "offset": -38.8, "values": [70, 80, 90, 100, 110, 120, 130, 140, 150], "format": "d", "domainColor": "#222", "domainWidth": 2, "tickColor": "#333", "tickSize": 3, "labelFontSize": 8.5, "labelColor": "#555", "labelPadding": 1, "labelFlush": false, "labelOverlap": false, "labelBound": false, "title": null, "grid": false, "zindex": 1}}},
       "layer": [
        {"mark": {"type": "rule", "color": "#333", "strokeWidth": 1.2}, "encoding": {"x": {"datum": 64.25, "type": "quantitative"}, "y": {"value": 1}, "y2": {"value": 39}}},
        {"mark": {"type": "bar"}, "encoding": {"x2": {"datum": 64.25}, "y": {"field": "m", "type": "nominal", "scale": {"domain": ["kg", "%"], "range": [17, 35.3], "paddingInner": 0.624, "paddingOuter": 0}, "axis": null}, "color": {"field": "m", "type": "nominal", "scale": {"domain": ["kg", "%"], "range": ["#000000", "#575757"]}, "legend": null}}},
        {"transform": [{"filter": "datum.m === '%'"}], "mark": {"type": "bar", "color": "#a9a9a9"}, "encoding": {"x": {"datum": 90, "type": "quantitative"}, "x2": {"field": "pct"}, "y": {"field": "m", "type": "nominal", "scale": {"domain": ["kg", "%"], "range": [17, 35.3], "paddingInner": 0.624, "paddingOuter": 0}, "axis": null}}},
        {"data": {"values": [{"t": 70}, {"t": 80}, {"t": 90}, {"t": 100}, {"t": 110}]}, "mark": {"type": "rule", "color": "#fff", "strokeWidth": 1.5}, "encoding": {"x": {"field": "t", "type": "quantitative"}, "y": {"value": 16.5}, "y2": {"value": 35.8}}},
        {"mark": {"type": "text", "fontSize": 12, "color": "#222", "align": "left", "baseline": "middle", "dx": 7, "dy": 0.7}, "encoding": {"y": {"field": "m", "type": "nominal", "scale": {"domain": ["kg", "%"], "range": [17, 35.3], "paddingInner": 0.624, "paddingOuter": 0}, "axis": null}, "text": {"field": "val"}}},
        {"mark": {"type": "text", "text": "%", "fontSize": 8, "color": "#555", "align": "center", "baseline": "middle", "y": 9.5}, "encoding": {"x": {"datum": 158.4, "type": "quantitative"}}}
       ]},
      {"width": 68.9, "height": 40, "data": {"name": "ecw"}, "transform": [{"filter": "datum.part === 'Right Leg'"}], "layer": [
        {"mark": {"type": "rule", "color": "#333", "strokeWidth": 1.5}, "encoding": {"x": {"value": 0.75}, "x2": {"value": 68.1}, "y": {"value": 1}}},
        {"mark": {"type": "text", "fontSize": 17, "color": "#222", "align": "center", "baseline": "middle", "x": 31, "y": 23}, "encoding": {"text": {"field": "ratio"}}}]}
     ], "spacing": 4.3, "bounds": "flush"},
    {"hconcat": [
      {"width": 105.5, "height": 40, "view": {"fill": "#e8e8e8", "stroke": null}, "data": {"values": [{"name": "Left Leg"}]}, "layer": [
        {"mark": {"type": "text", "fontWeight": "bold", "fontSize": 14, "color": "#4d4d4d", "align": "left", "baseline": "middle", "x": 5, "y": 20.5}, "encoding": {"text": {"field": "name"}}},
        {"mark": {"type": "text", "text": "(kg)", "fontSize": 9, "color": "#444", "align": "right", "baseline": "middle", "x": 103, "y": 21}},
        {"mark": {"type": "text", "text": "(%)", "fontSize": 9, "color": "#444", "align": "right", "baseline": "middle", "x": 103, "y": 31}}]},
      {"width": 344, "height": 40, "data": {"name": "lean"}, "transform": [{"filter": "datum.part === 'Left Leg'"}],
       "encoding": {"x": {"field": "pct", "type": "quantitative", "scale": {"domain": [64.25, 159.8], "zero": false, "nice": false},
         "axis": {"orient": "bottom", "offset": -38.8, "values": [70, 80, 90, 100, 110, 120, 130, 140, 150], "format": "d", "domainColor": "#222", "domainWidth": 2, "tickColor": "#333", "tickSize": 3, "labelFontSize": 8.5, "labelColor": "#555", "labelPadding": 1, "labelFlush": false, "labelOverlap": false, "labelBound": false, "title": null, "grid": false, "zindex": 1}}},
       "layer": [
        {"mark": {"type": "rule", "color": "#333", "strokeWidth": 1.2}, "encoding": {"x": {"datum": 64.25, "type": "quantitative"}, "y": {"value": 1}, "y2": {"value": 39}}},
        {"mark": {"type": "bar"}, "encoding": {"x2": {"datum": 64.25}, "y": {"field": "m", "type": "nominal", "scale": {"domain": ["kg", "%"], "range": [17, 35.3], "paddingInner": 0.624, "paddingOuter": 0}, "axis": null}, "color": {"field": "m", "type": "nominal", "scale": {"domain": ["kg", "%"], "range": ["#000000", "#575757"]}, "legend": null}}},
        {"transform": [{"filter": "datum.m === '%'"}], "mark": {"type": "bar", "color": "#a9a9a9"}, "encoding": {"x": {"datum": 90, "type": "quantitative"}, "x2": {"field": "pct"}, "y": {"field": "m", "type": "nominal", "scale": {"domain": ["kg", "%"], "range": [17, 35.3], "paddingInner": 0.624, "paddingOuter": 0}, "axis": null}}},
        {"data": {"values": [{"t": 70}, {"t": 80}, {"t": 90}, {"t": 100}, {"t": 110}]}, "mark": {"type": "rule", "color": "#fff", "strokeWidth": 1.5}, "encoding": {"x": {"field": "t", "type": "quantitative"}, "y": {"value": 16.5}, "y2": {"value": 35.8}}},
        {"mark": {"type": "text", "fontSize": 12, "color": "#222", "align": "left", "baseline": "middle", "dx": 7, "dy": 0.7}, "encoding": {"y": {"field": "m", "type": "nominal", "scale": {"domain": ["kg", "%"], "range": [17, 35.3], "paddingInner": 0.624, "paddingOuter": 0}, "axis": null}, "text": {"field": "val"}}},
        {"mark": {"type": "text", "text": "%", "fontSize": 8, "color": "#555", "align": "center", "baseline": "middle", "y": 9.5}, "encoding": {"x": {"datum": 158.4, "type": "quantitative"}}}
       ]},
      {"width": 68.9, "height": 40, "data": {"name": "ecw"}, "transform": [{"filter": "datum.part === 'Left Leg'"}], "layer": [
        {"mark": {"type": "rule", "color": "#333", "strokeWidth": 1.5}, "encoding": {"x": {"value": 0.75}, "x2": {"value": 68.1}, "y": {"value": 1}}},
        {"mark": {"type": "text", "fontSize": 17, "color": "#222", "align": "center", "baseline": "middle", "x": 31, "y": 23}, "encoding": {"text": {"field": "ratio"}}}]}
     ], "spacing": 4.3, "bounds": "flush"},
    {"width": 527, "height": 1, "view": {"fill": "#d0d0d0", "stroke": null}, "data": {"values": []}, "mark": "point"}
   ], "spacing": 2, "bounds": "full"},
  {"width": 527, "height": 35, "data": {"values": [{"title": "ECW Ratio Analysis"}]}, "mark": {"type": "text", "font": "Liberation Serif, Times New Roman, serif", "fontWeight": "bold", "fontSize": 18.5, "color": "#8a8a8a", "align": "left", "baseline": "middle", "x": 0, "y": 23}, "encoding": {"text": {"field": "title"}}},
  {"vconcat": [
    {"hconcat": [
      {"width": 105.5, "height": 18, "view": {"fill": "#9ea2a7", "stroke": null}, "data": {"values": []}, "mark": "point"},
      {"width": 94.4, "height": 18, "view": {"fill": "#c8ccd1", "stroke": null}, "data": {"values": [{"zone": "Under"}]}, "mark": {"type": "text", "fontWeight": "bold", "fontSize": 13.5, "color": "white", "align": "center", "baseline": "middle", "x": 47.2, "y": 9.3}, "encoding": {"text": {"field": "zone"}}},
      {"width": 70.3, "height": 18, "view": {"fill": "#8f9398", "stroke": null}, "data": {"values": [{"zone": "Normal"}]}, "mark": {"type": "text", "fontWeight": "bold", "fontSize": 13.5, "color": "white", "align": "center", "baseline": "middle", "x": 35.2, "y": 9.3}, "encoding": {"text": {"field": "zone"}}},
      {"width": 250.5, "height": 18, "view": {"fill": "#c8ccd1", "stroke": null}, "data": {"values": [{"zone": "Over"}]}, "mark": {"type": "text", "fontWeight": "bold", "fontSize": 13.5, "color": "white", "align": "center", "baseline": "middle", "x": 125.2, "y": 9.3}, "encoding": {"text": {"field": "zone"}}}
     ], "spacing": 2, "bounds": "flush"},
    {"hconcat": [
      {"width": 105.5, "height": 8, "view": {"fill": "#e8e8e8", "stroke": null}, "data": {"values": []}, "mark": "point"},
      {"width": 411.2, "height": 8, "data": {"values": [{"k": 0}]}, "mark": {"type": "rule", "color": "#333", "strokeWidth": 1.2},
       "encoding": {"x": {"datum": -0.575, "type": "quantitative", "scale": {"domain": [-0.575, 10.847], "zero": false, "nice": false},
         "axis": {"orient": "bottom", "offset": -6.8, "values": [0, 1, 2, 3, 4, 5, 6, 7, 8, 9, 10], "labels": false, "domainColor": "#222", "domainWidth": 2, "tickColor": "#333", "tickSize": 3, "title": null, "grid": false}},
         "y": {"value": 1}, "y2": {"value": 7.3}}}
     ], "spacing": 4.3, "bounds": "flush"}
   ], "spacing": 2, "bounds": "full"}
 ],
 "spacing": 0, "bounds": "full"
},
{
 "vconcat": [
  {"width": 270, "height": 23.25, "layer": [
    {"data": {"name": "history"}, "mark": {"type": "tick", "opacity": 0}, "encoding": {"x": {"field": "id", "type": "ordinal", "scale": {"domain": ["1", "2", "3", "4", "5"], "range": [2, 267], "paddingInner": 0, "paddingOuter": 0}, "axis": {"orient": "bottom", "domain": true, "domainColor": "#333", "domainWidth": 1.5, "labels": false, "ticks": false, "title": null, "grid": false}}}},
    {"data": {"values": [{"smi": "6.3", "unit": "kg/m²"}]}, "layer": [
      {"mark": {"type": "text", "fontSize": 17, "color": "#222", "align": "right", "baseline": "middle", "x": 159, "y": 14}, "encoding": {"text": {"field": "smi"}}},
      {"mark": {"type": "text", "fontWeight": "bold", "fontSize": 9.5, "color": "#333", "align": "left", "baseline": "middle", "x": 161, "y": 15}, "encoding": {"text": {"field": "unit"}}}]}
   ]},
  {"width": 270, "height": 24, "data": {"name": "history"}, "mark": {"type": "text", "fontSize": 17, "color": "#222", "baseline": "middle", "y": 12.5},
   "encoding": {"x": {"field": "id", "type": "ordinal", "scale": {"domain": ["1", "2", "3", "4", "5"], "range": [2, 267], "paddingInner": 0, "paddingOuter": 0}, "axis": {"orient": "bottom", "domain": false, "labels": false, "ticks": false, "title": null, "grid": true, "gridDash": [1, 1.5], "gridColor": "#888", "bandPosition": 0, "values": ["2", "3", "4", "5"]}}, "text": {"field": "smi"}}},
  {"width": 270, "height": 22.5, "data": {"name": "history"},
   "encoding": {"x": {"field": "id", "type": "ordinal", "scale": {"domain": ["1", "2", "3", "4", "5"], "range": [2, 267], "paddingInner": 0, "paddingOuter": 0}, "axis": {"orient": "bottom", "domain": true, "domainColor": "#777", "domainWidth": 1, "labels": false, "ticks": false, "title": null, "grid": true, "gridDash": [1, 1.5], "gridColor": "#999", "bandPosition": 0, "values": ["2", "3", "4", "5"], "zindex": 1}}},
   "layer": [
    {"mark": {"type": "bar", "color": "#d6d6d6"}},
    {"mark": {"type": "text", "fontSize": 10.5, "color": "#333", "baseline": "middle", "y": 6}, "encoding": {"text": {"field": "date"}}},
    {"mark": {"type": "text", "fontSize": 10.5, "color": "#333", "baseline": "middle", "y": 16.5}, "encoding": {"text": {"field": "time"}}}
   ]},
  {"width": 270, "height": 229, "layer": [
    {"data": {"values": [{"title": "Visceral Fat Area"}]}, "mark": {"type": "text", "fontWeight": "bold", "fontSize": 14, "color": "#111", "align": "left", "baseline": "middle", "x": 3, "y": 23}, "encoding": {"text": {"field": "title"}}},
    {"data": {"values": [{}]}, "mark": {"type": "rule", "color": "#999", "strokeWidth": 1}, "encoding": {"x": {"value": 124}, "x2": {"value": 269}, "y": {"value": 23}}},
    {"data": {"values": [{"a": "VFA", "b": "(cm²)"}]}, "layer": [
      {"mark": {"type": "text", "fontSize": 12, "color": "#222", "align": "left", "baseline": "middle", "x": 10, "y": 47}, "encoding": {"text": {"field": "a"}}},
      {"mark": {"type": "text", "fontSize": 8.5, "color": "#222", "align": "left", "baseline": "middle", "x": 33, "y": 48.5}, "encoding": {"text": {"field": "b"}}}]},
    {"encoding": {
       "x": {"field": "age", "type": "quantitative", "scale": {"domain": [-2.66, 102.66], "range": [43.3, 255.7], "zero": false, "nice": false},
         "axis": {"values": [20, 40, 60, 80], "offset": -19.3, "title": "Age", "titleX": 244, "titleY": 10, "titleAlign": "center", "titleBaseline": "middle", "titleAngle": 0, "titleFontSize": 14, "titleFontWeight": "normal", "titleColor": "#222", "labelFont": "Liberation Serif, Times New Roman, serif", "labelFontSize": 15, "labelColor": "#222", "labelPadding": 0, "tickSize": 4, "tickColor": "#333", "domainColor": "#333", "grid": false}},
       "y": {"field": "lo", "type": "quantitative", "scale": {"domain": [0, 206], "range": [209.7, 59], "zero": false, "nice": false},
         "axis": {"values": [50, 100, 150, 200], "title": null, "offset": -43.3, "labelFont": "Liberation Serif, Times New Roman, serif", "labelFontSize": 15, "labelColor": "#222", "labelPadding": 2.6, "tickSize": 4, "tickColor": "#333", "domainColor": "#333", "grid": false}}},
     "layer": [
      {"data": {"name": "vfaNormal"}, "mark": {"type": "area", "color": "#dedede", "opacity": 1}, "encoding": {"y2": {"field": "hi"}}},
      {"data": {"name": "vfaHigh"}, "mark": {"type": "area", "color": "#a4a4a4", "opacity": 1}, "encoding": {"y2": {"field": "hi"}}},
      {"data": {"values": [{"vfa": 100}]}, "mark": {"type": "rule", "color": "#bdbdbd", "strokeWidth": 1}, "encoding": {"y": {"field": "vfa", "type": "quantitative"}, "x": {"datum": -2.66, "type": "quantitative"}, "x2": {"datum": 102.66}}},
      {"data": {"name": "vfa"}, "mark": {"type": "point", "shape": "M-1,0H1M0,-1V1", "filled": false, "color": "#000", "strokeWidth": 2.5, "size": 484, "opacity": 1}, "encoding": {"y": {"field": "vfa", "type": "quantitative"}}},
      {"data": {"name": "vfa"}, "mark": {"type": "point", "shape": "circle", "filled": true, "color": "#000", "size": 70, "opacity": 1}, "encoding": {"y": {"field": "vfa", "type": "quantitative"}}},
      {"data": {"name": "vfa"}, "mark": {"type": "text", "fontSize": 16, "color": "#222", "align": "left", "baseline": "middle", "dx": 12, "dy": -13}, "encoding": {"y": {"field": "vfa", "type": "quantitative"}, "text": {"field": "vfa", "format": ".1f"}}}
     ]}
   ]},
  {"width": 270, "height": 103, "layer": [
    {"data": {"values": [{"title": "Weight Control"}]}, "mark": {"type": "text", "fontWeight": "bold", "fontSize": 14, "color": "#111", "align": "left", "baseline": "middle", "x": 1, "y": 10}, "encoding": {"text": {"field": "title"}}},
    {"data": {"values": [{}]}, "mark": {"type": "rule", "color": "#999", "strokeWidth": 1}, "encoding": {"x": {"value": 107}, "x2": {"value": 267}, "y": {"value": 10}}},
    {"data": {"name": "weightControl"},
     "encoding": {"y": {"field": "item", "type": "nominal", "scale": {"type": "point", "domain": ["Target Weight", "Weight Control", "Fat Control", "Muscle Control"], "range": [33.3, 90.7], "padding": 0}, "axis": null}},
     "layer": [
      {"mark": {"type": "text", "fontSize": 11.8, "color": "#222", "align": "left", "baseline": "middle", "x": 1}, "encoding": {"text": {"field": "item"}}},
      {"mark": {"type": "text", "fontSize": 14, "color": "#222", "align": "right", "baseline": "middle", "x": 156.3}, "encoding": {"text": {"field": "value"}}},
      {"mark": {"type": "text", "text": "kg", "fontWeight": "bold", "fontSize": 10, "color": "#222", "align": "left", "baseline": "middle", "x": 163.3, "dy": 1}}
     ]}
   ]},
  {"width": 270, "height": 142, "layer": [
    {"data": {"values": [{"title": "Segmental Fat Analysis"}]}, "mark": {"type": "text", "fontWeight": "bold", "fontSize": 14, "color": "#111", "align": "left", "baseline": "middle", "x": 1, "y": 12.7}, "encoding": {"text": {"field": "title"}}},
    {"data": {"values": [{}]}, "mark": {"type": "rule", "color": "#999", "strokeWidth": 1}, "encoding": {"x": {"value": 164}, "x2": {"value": 267}, "y": {"value": 12.7}}},
    {"data": {"values": [{"sym": "▼", "at": 60}, {"sym": "—", "at": 100}, {"sym": "▲", "at": 140}]},
     "mark": {"type": "text", "font": "DejaVu Sans, sans-serif", "fontSize": 11, "color": "#111", "align": "center", "baseline": "middle", "y": 33.7},
     "encoding": {"x": {"field": "at", "type": "quantitative", "scale": {"domain": [40, 160], "range": [138.4, 235.6], "zero": false, "nice": false}, "axis": null}, "text": {"field": "sym"}}},
    {"data": {"values": [{"at": 80}, {"at": 120}]}, "mark": {"type": "rule", "color": "#333", "strokeWidth": 1},
     "encoding": {"x": {"field": "at", "type": "quantitative", "scale": {"domain": [40, 160], "range": [138.4, 235.6], "zero": false, "nice": false}, "axis": null}, "y": {"value": 29.5}, "y2": {"value": 38}}},
    {"data": {"name": "segFat"},
     "encoding": {"y": {"field": "part", "type": "nominal", "scale": {"type": "point", "domain": ["Right Arm", "Left Arm", "Trunk", "Right Leg", "Left Leg"], "range": [49.7, 128], "padding": 0}, "axis": null}},
     "layer": [
      {"mark": {"type": "text", "fontSize": 11.8, "color": "#222", "align": "left", "baseline": "middle", "x": 1}, "encoding": {"text": {"field": "part"}}},
      {"mark": {"type": "text", "fontSize": 12.5, "color": "#222", "align": "right", "baseline": "middle", "x": 135.7}, "encoding": {"text": {"field": "kg"}}},
      {"mark": {"type": "tick", "orient": "vertical", "color": "#000", "thickness": 1, "size": 11, "opacity": 1}, "encoding": {"x": {"datum": 40, "type": "quantitative", "scale": {"domain": [40, 160], "range": [138.4, 235.6], "zero": false, "nice": false}, "axis": null}}},
      {"mark": {"type": "bar", "color": "#000", "size": 4}, "encoding": {"x": {"field": "pct", "type": "quantitative", "scale": {"domain": [40, 160], "range": [138.4, 235.6], "zero": false, "nice": false}, "axis": null}, "x2": {"datum": 40}}}
     ]},
    {"data": {"values": [{"t": 55}, {"t": 70}, {"t": 85}]}, "mark": {"type": "rule", "color": "#fff", "strokeWidth": 1.3, "yOffset": -3, "y2Offset": 3},
     "encoding": {"x": {"field": "t", "type": "quantitative", "scale": {"domain": [40, 160], "range": [138.4, 235.6], "zero": false, "nice": false}, "axis": null},
       "y": {"datum": "Right Arm", "type": "nominal", "scale": {"type": "point", "domain": ["Right Arm", "Left Arm", "Trunk", "Right Leg", "Left Leg"], "range": [49.7, 128], "padding": 0}, "axis": null}, "y2": {"datum": "Left Leg"}}},
    {"data": {"name": "segFat"}, "mark": {"type": "text", "fontSize": 9.5, "color": "#222", "align": "left", "baseline": "middle", "dx": 3},
     "encoding": {"x": {"field": "pct", "type": "quantitative", "scale": {"domain": [40, 160], "range": [138.4, 235.6], "zero": false, "nice": false}, "axis": null},
       "y": {"field": "part", "type": "nominal", "scale": {"type": "point", "domain": ["Right Arm", "Left Arm", "Trunk", "Right Leg", "Left Leg"], "range": [49.7, 128], "padding": 0}, "axis": null}, "text": {"field": "label"}}}
   ]},
  {"width": 270, "height": 119, "layer": [
    {"data": {"values": [{"title": "Research Parameters"}]}, "mark": {"type": "text", "fontWeight": "bold", "fontSize": 14, "color": "#111", "align": "left", "baseline": "middle", "x": 1, "y": 12.7}, "encoding": {"text": {"field": "title"}}},
    {"data": {"values": [{}]}, "mark": {"type": "rule", "color": "#999", "strokeWidth": 1}, "encoding": {"x": {"value": 151}, "x2": {"value": 267}, "y": {"value": 12.7}}},
    {"data": {"name": "research"},
     "encoding": {"y": {"field": "item", "type": "nominal", "scale": {"type": "point", "domain": ["Fat Free Mass", "Basal Metabolic Rate", "Adjusted FFM", "Adjusted SMI", "Recommended calorie intake"], "range": [31.7, 110], "padding": 0}, "axis": null}},
     "layer": [
      {"mark": {"type": "text", "color": "#222", "align": "left", "baseline": "middle", "x": 1}, "encoding": {"text": {"field": "item"}, "size": {"condition": [{"test": "datum.item === 'Recommended calorie intake'", "value": 9}, {"test": "datum.item === 'Basal Metabolic Rate'", "value": 9.3}], "value": 12}}},
      {"mark": {"type": "text", "fontSize": 16, "color": "#222", "align": "right", "baseline": "middle", "x": 158}, "encoding": {"text": {"field": "value"}}},
      {"mark": {"type": "text", "fontWeight": "bold", "fontSize": 10, "color": "#222", "align": "left", "baseline": "middle", "x": 161, "dy": 1}, "encoding": {"text": {"field": "unit"}}},
      {"transform": [{"filter": "datum.range !== ''"}], "layer": [
        {"mark": {"type": "text", "fontSize": 12.5, "color": "#222", "align": "center", "baseline": "middle", "x": 231}, "encoding": {"text": {"field": "range"}}},
        {"mark": {"type": "text", "text": "(", "fontSize": 14, "color": "#222", "align": "center", "baseline": "middle", "x": 192}},
        {"mark": {"type": "text", "text": ")", "fontSize": 14, "color": "#222", "align": "center", "baseline": "middle", "x": 266}}
       ]}
     ]}
   ]}
 ],
 "spacing": 0, "bounds": "full"
}
],
"spacing": 26,
"bounds": "full"
}
